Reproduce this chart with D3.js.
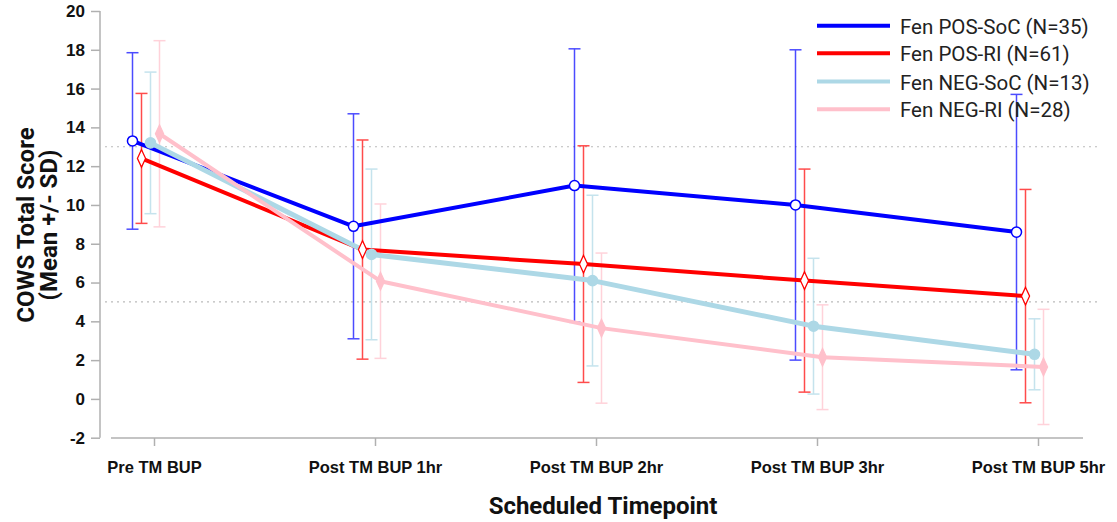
<!DOCTYPE html>
<html>
<head>
<meta charset="utf-8">
<script src="https://cdn.jsdelivr.net/npm/d3@7"></script>
<style>
  body { margin: 0; background: #fff; font-family: Roboto, "Liberation Sans", sans-serif; }
  .axis path, .axis line { stroke: #b0b0b0; stroke-width: 1.5; }
  .axis text { fill: #111; font-weight: bold; }
</style>
</head>
<body>
<script>
// categories and series values
var timepoints = ["Pre TM BUP", "Post TM BUP 1hr", "Post TM BUP 2hr", "Post TM BUP 3hr", "Post TM BUP 5hr"];
var seriesNames = ["Fen POS-SoC (N=35)", "Fen POS-RI (N=61)", "Fen NEG-SoC (N=13)", "Fen NEG-RI (N=28)"];
var meanPosSoc = [13.3, 8.9, 11.0, 10.0, 8.6];
var sdPosSoc = [4.55, 5.8, 7.05, 8.0, 7.1];
var meanPosRi = [12.4, 7.7, 6.95, 6.1, 5.3];
var sdPosRi = [3.35, 5.65, 6.1, 5.75, 5.5];
var meanNegSoc = [13.2, 7.45, 6.1, 3.75, 2.3];
var sdNegSoc = [3.65, 4.4, 4.4, 3.5, 1.83];
var meanNegRi = [13.67, 6.07, 3.65, 2.15, 1.65];
var sdNegRi = [4.8, 3.98, 3.87, 2.7, 2.97];
var refLines = [13, 5];
var yTicks = [-2, 0, 2, 4, 6, 8, 10, 12, 14, 16, 18, 20];

var colors = ["#0000ff", "#ff0000", "#add8e6", "#ffc0cb"];
var offsets = [-21.5, -12.5, -3.5, 5.5];
var markers = ["circleOpen", "diamondOpen", "circle", "diamond"];

var series = [
  { name: seriesNames[0], mean: meanPosSoc, sd: sdPosSoc },
  { name: seriesNames[1], mean: meanPosRi, sd: sdPosRi },
  { name: seriesNames[2], mean: meanNegSoc, sd: sdNegSoc },
  { name: seriesNames[3], mean: meanNegRi, sd: sdNegRi }
];

var width = 1117, height = 522;
var svg = d3.select("body").append("svg").attr("width", width).attr("height", height);

var x = d3.scalePoint().domain(timepoints).range([154, 1038]);
var y = d3.scaleLinear().domain([-2, 20]).range([437.7, 11]);

// y axis
var yAxis = svg.append("g")
  .attr("class", "axis")
  .attr("transform", "translate(100,0)")
  .call(d3.axisLeft(y).tickValues(yTicks).tickFormat(d => String(d)).tickSizeOuter(0).tickSize(9).tickPadding(6));
yAxis.select(".domain").attr("d", "M0," + y(20) + "V" + y(-2));
yAxis.selectAll("text").style("font-size", "17px");

// x axis
var xAxis = svg.append("g")
  .attr("class", "axis")
  .attr("transform", "translate(0,438)")
  .call(d3.axisBottom(x).tickSizeOuter(0).tickSize(8).tickPadding(15));
xAxis.select(".domain").attr("d", "M111,0H1083");
xAxis.selectAll("text").style("font-size", "16.5px");

// dotted reference lines
svg.selectAll("line.ref")
  .data(refLines).enter()
  .append("line")
  .attr("class", "ref")
  .attr("x1", 105).attr("x2", 1100)
  .attr("y1", d => y(d)).attr("y2", d => y(d))
  .attr("stroke", "#bbb")
  .attr("stroke-width", 1.2)
  .attr("stroke-dasharray", "2,4");

// axis titles
svg.append("text")
  .attr("x", 603).attr("y", 514)
  .attr("text-anchor", "middle")
  .style("font-size", "24px").style("font-weight", "bold").style("fill", "#111")
  .text("Scheduled Timepoint");

var yt = svg.append("text")
  .attr("transform", "translate(34,225) rotate(-90)")
  .attr("text-anchor", "middle")
  .style("font-size", "24px").style("font-weight", "bold").style("fill", "#111");
yt.append("tspan").attr("x", 0).attr("y", 0).text("COWS Total Score");
yt.append("tspan").attr("x", 0).attr("y", 23).text("(Mean +/- SD)");

// error bars
series.forEach(function(s, i) {
  var g = svg.append("g").attr("stroke", colors[i]).attr("stroke-width", 1.5).attr("opacity", 0.7);
  timepoints.forEach(function(t, j) {
    var cx = x(t) + offsets[i];
    var top = y(s.mean[j] + s.sd[j]), bot = y(s.mean[j] - s.sd[j]);
    g.append("line").attr("x1", cx).attr("x2", cx).attr("y1", top).attr("y2", bot);
    g.append("line").attr("x1", cx - 6).attr("x2", cx + 6).attr("y1", top).attr("y2", top);
    g.append("line").attr("x1", cx - 6).attr("x2", cx + 6).attr("y1", bot).attr("y2", bot);
  });
});

// lines
series.forEach(function(s, i) {
  var line = d3.line()
    .x((d, j) => x(timepoints[j]) + offsets[i])
    .y(d => y(d));
  svg.append("path")
    .attr("d", line(s.mean))
    .attr("fill", "none")
    .attr("stroke", colors[i])
    .attr("stroke-width", i == 2 ? 5 : 4)
    .attr("stroke-linejoin", "round");
});

// markers
series.forEach(function(s, i) {
  var isDiamond = markers[i].indexOf("diamond") == 0;
  var open = markers[i].indexOf("Open") > 0;
  var sym = d3.symbol().type(isDiamond ? d3.symbolDiamond : d3.symbolCircle).size(isDiamond ? 90 : 80);
  svg.selectAll("path.m" + i)
    .data(s.mean).enter()
    .append("path")
    .attr("class", "m" + i)
    .attr("d", sym)
    .attr("transform", (d, j) => "translate(" + (x(timepoints[j]) + offsets[i]) + "," + y(d) + ")" + (isDiamond ? " scale(0.8,1)" : ""))
    .attr("fill", open ? "#fff" : colors[i])
    .attr("stroke", colors[i])
    .attr("stroke-width", 1.5);
});

// legend
var legend = svg.append("g");
var legendY = [25.7, 53.3, 81.5, 109.3];
seriesNames.forEach(function(n, i) {
  legend.append("line")
    .attr("x1", 817).attr("x2", 890)
    .attr("y1", legendY[i]).attr("y2", legendY[i])
    .attr("stroke", colors[i]).attr("stroke-width", 4);
  legend.append("text")
    .attr("x", 900).attr("y", legendY[i] + 8)
    .style("font-size", "20.5px").style("fill", "#222")
    .text(n);
});
</script>
</body>
</html>
